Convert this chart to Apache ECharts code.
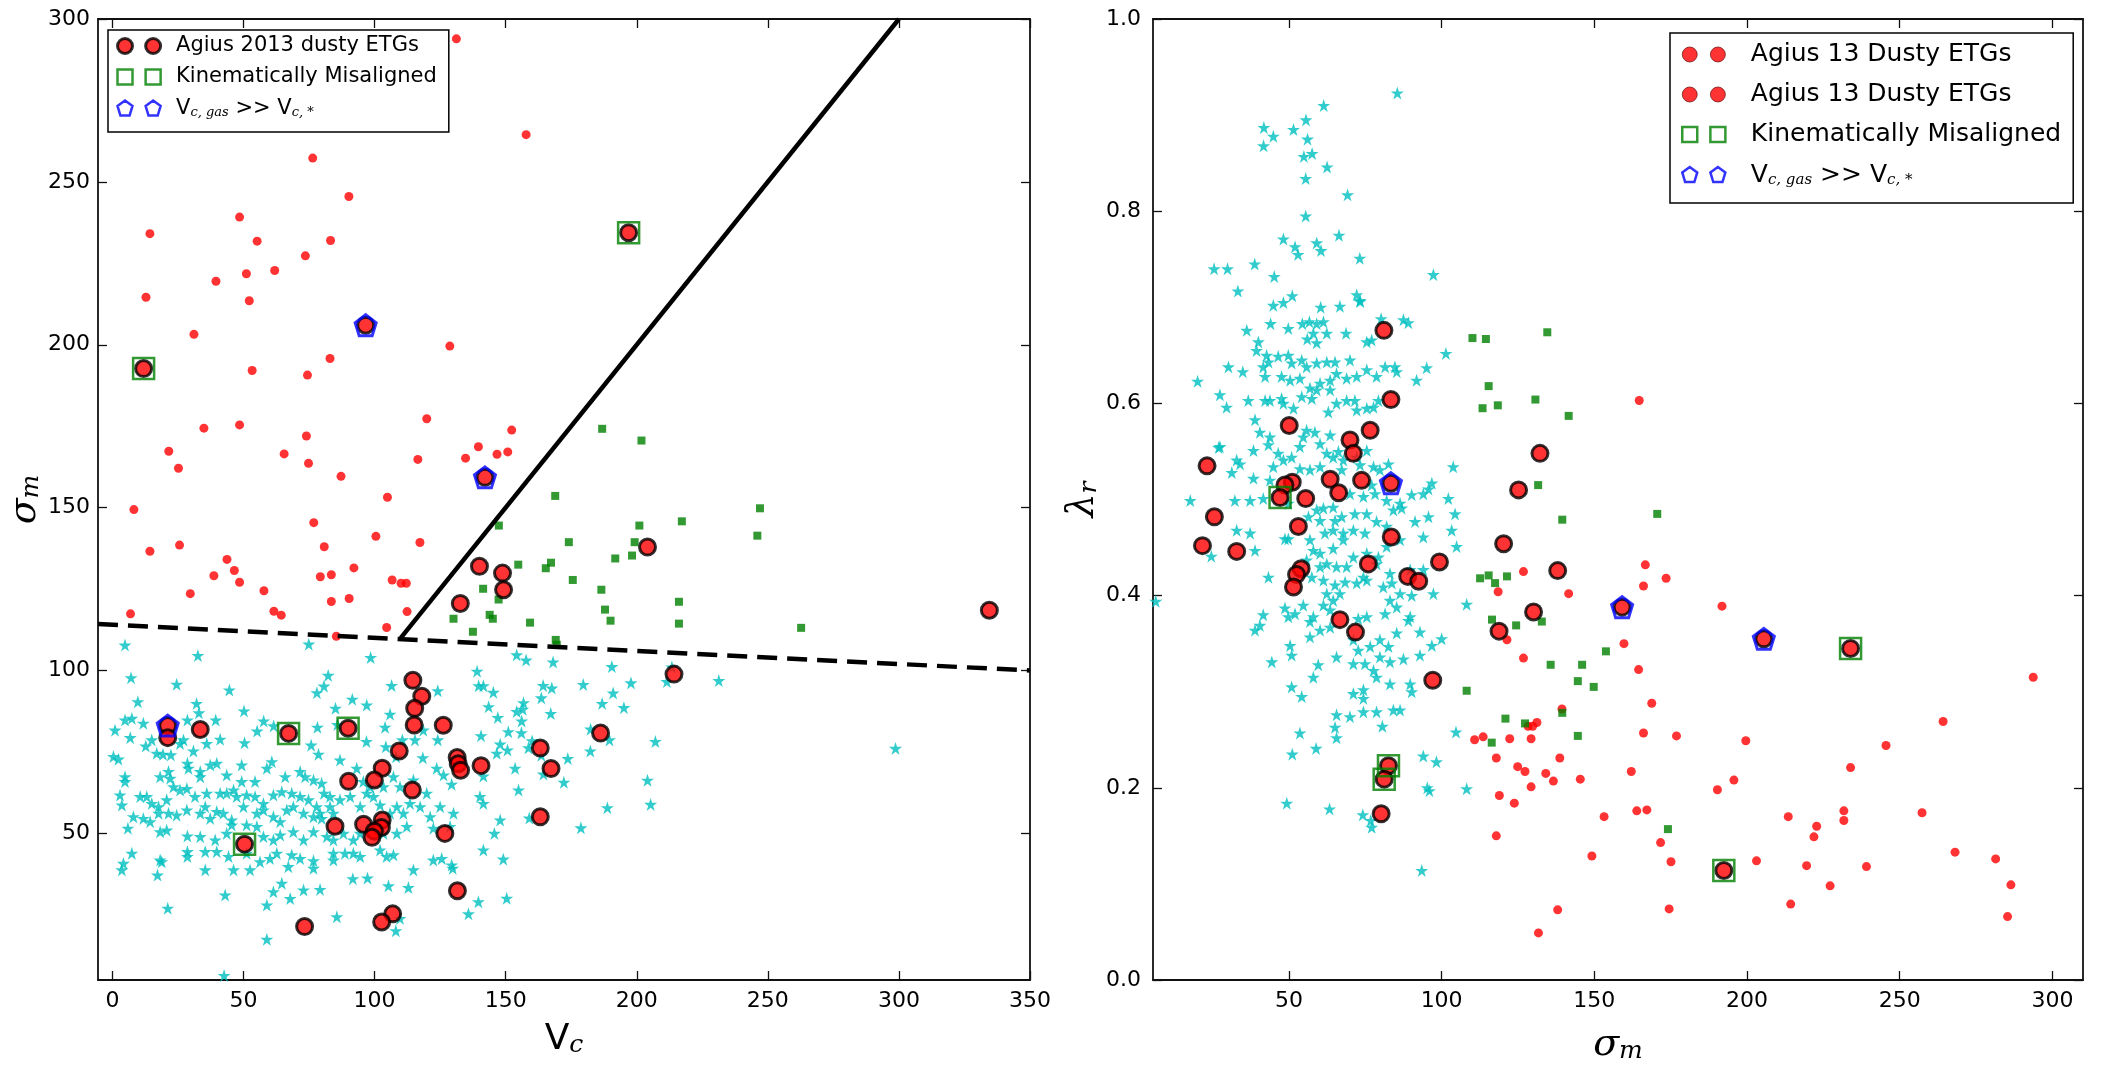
<!DOCTYPE html>
<html>
<head>
<meta charset="utf-8">
<title>Vc / sigma_m / lambda_r</title>
<script src="https://cdn.jsdelivr.net/npm/echarts@6.0.0/dist/echarts.min.js"></script>
<style>
html, body { margin: 0; padding: 0; background: #fff; }
#main { width: 2114px; height: 1074px; }
</style>
</head>
<body>
<div id="main"></div>
<script>
// ---- left panel: V_c vs sigma_m ----
var leftStars = [
 [4.8,107.8],[32.6,104.6],[74.9,108.1],[98.5,104.0],[154.2,104.8],
 [7.1,97.8],[24.5,95.8],[44.6,94.0],[9.7,90.4],[82.3,98.5],[80.7,95.2],[78.0,93.2],[91.5,91.2],[97.0,89.4],[85.1,88.4],[106.5,95.4],[124.1,93.8],[139.1,99.8],[139.7,95.3],[141.5,95.3],[145.3,93.3],[143.5,88.9],[147.0,85.6],[151.0,81.2],[154.2,87.4],
 [32.1,89.9],[33.0,87.0],[50.2,87.6],[57.7,84.5],[61.5,83.0],[55.2,81.4],[50.4,77.8],[41.1,78.9],[39.4,84.8],[28.6,84.8],[4.8,84.8],[7.4,85.3],[1.0,81.7],[11.8,83.8],[15.0,78.7],[6.8,79.4],[12.7,76.8],[16.9,74.6],[19.3,74.3],[22.3,74.1],[25.8,77.6],[27.1,78.7],[30.9,75.3],[36.0,77.6],[0.4,73.6],[2.3,72.8],
 [78.2,82.6],[85.8,83.4],[96.9,78.2],[104.0,82.6],[105.9,86.6],[118.6,81.7],[115.4,78.7],[124.1,78.7],[140.6,80.0],[147.9,77.4],[150.7,75.6],[146.6,74.6],[75.8,77.1],[78.6,74.3],[86.8,72.5],[93.2,70.0],[104.3,76.6],[110.6,78.7],[108.2,73.5],[118.4,73.2],[123.7,70.0],[126.3,67.9],[129.4,65.1],[141.5,67.6],[153.6,70.0],
 [4.8,67.4],[4.8,65.9],[18.2,67.4],[21.4,69.0],[22.0,66.9],[28.6,71.5],[29.0,70.0],[33.5,69.0],[33.5,67.4],[37.3,71.0],[39.8,71.5],[43.6,67.9],[49.3,71.0],[49.3,65.9],[54.4,65.9],[58.9,70.0],[60.8,72.0],[65.9,67.4],[71.6,69.0],[73.5,67.4],[76.7,66.4],[79.8,65.4],[80.7,62.3],[83.0,61.3],
 [2.9,61.8],[3.6,58.7],[10.6,61.3],[13.1,61.3],[15.0,59.2],[17.6,58.2],[20.7,60.3],[23.3,64.3],[25.8,63.3],[28.4,63.8],[31.5,61.3],[36.0,62.3],[41.1,62.3],[43.6,62.3],[46.2,63.3],[47.4,61.3],[51.2,61.8],[54.4,61.3],[57.6,59.2],[61.4,61.8],[64.6,62.8],[68.4,62.3],[71.6,61.3],[74.8,60.3],[77.9,58.2],[79.2,56.2],[83.0,58.2],[86.8,60.3],
 [8.0,55.1],[11.8,54.6],[14.4,53.6],[17.6,56.2],[21.4,56.2],[24.5,55.6],[28.4,57.2],[33.5,56.2],[35.4,58.2],[37.3,54.6],[39.8,56.7],[42.3,56.2],[45.5,54.1],[50.0,58.2],[55.1,56.2],[57.6,57.2],[61.4,55.1],[64.0,53.6],[66.5,57.2],[69.0,58.2],[72.9,56.2],[76.7,55.1],[79.8,54.6],[84.3,56.2],
 [5.9,51.6],[18.2,50.5],[20.7,51.0],[28.6,49.2],[33.5,49.0],[39.2,48.0],[43.6,50.0],[45.5,52.6],[51.2,52.6],[55.1,52.1],[57.6,49.0],[61.4,48.0],[64.0,49.5],[69.0,50.5],[72.9,48.0],[76.7,50.5],[81.8,49.0],[84.3,48.0],[88.1,50.0],[91.9,48.0],[94.5,50.0],
 [90.7,61.3],[94.5,58.2],[97.0,62.3],[99.6,61.3],[102.1,58.7],[105.9,56.2],[108.5,58.2],[111.0,56.2],[113.5,59.2],[117.4,58.2],[121.2,55.1],[125.0,58.2],[130.1,56.2],[140.2,61.3],[141.5,59.2],[147.9,54.1],
 [95.7,65.9],[98.3,64.3],[103.4,64.3],[107.2,67.4],[109.7,64.3],[114.8,66.4],[119.9,62.3],
 [103.4,50.0],[108.5,50.0],[112.3,52.1],[122.4,51.6],[128.8,52.1],
 [7.4,43.9],[4.2,40.8],[3.6,38.8],[18.2,41.8],[18.8,41.3],[17.2,37.2],[28.6,44.4],[28.6,42.9],[35.4,38.8],[35.4,44.4],[39.8,44.4],[44.3,42.9],[46.2,38.8],[51.2,43.9],[52.5,38.8],[56.3,41.3],[60.1,42.3],[62.7,43.9],[67.1,39.8],[68.4,43.4],[71.6,42.3],[76.7,41.6],[76.7,39.3],[84.3,43.9],[84.3,41.8],[88.7,43.9],[91.9,43.9],[94.5,42.9],[102.1,44.9],[104.6,42.9],[107.2,43.4],[114.8,38.8],[122.4,41.8],[125.6,42.3],[129.4,40.3],[129.8,39.3],[141.5,44.9],[149.1,42.1],[145.7,50.0],
 [43.0,31.1],[61.4,32.1],[64.6,34.7],[72.9,32.6],[79.2,32.8],[67.8,30.0],[58.9,28.0],[91.7,36.1],[97.3,36.3],[105.3,33.9],[112.9,33.4],[85.6,24.4],[21.1,27.0],[58.9,17.5],[108.1,20.1],[109.7,23.9],[135.8,25.3],[139.6,29.0],[150.4,30.1],
 [157.8,103.2],[168.1,102.6],[190.5,101.2],[197.8,96.2],[179.6,95.7],[164.3,95.4],[167.6,94.6],[191.0,93.1],[163.6,91.6],[156.8,90.1],[156.5,88.1],[167.2,86.8],[186.8,89.9],[195.1,88.6],[156.1,84.5],[156.0,80.9],[160.1,78.4],[189.6,78.7],[207.1,78.2],[182.3,75.3],[158.7,76.3],[163.6,74.0],[173.7,73.0],[164.4,68.2],[172.2,65.7],[204.1,66.3],[205.3,58.9],[188.8,57.9],[178.7,51.7],[159.0,54.7],[154.9,63.3],
 [211.5,96.6],[213.4,101.1],[231.3,96.9],[182.4,82.0],[298.7,76.1],[42.6,6.4]
];
var leftRedDots = [
 [131.2,293.9],[157.8,264.5],[76.4,257.3],[90.2,245.5],[48.5,239.2],[14.3,234.1],[55.2,231.8],[83.2,232.0],[73.6,227.3],[39.5,219.5],[51.1,221.8],[61.9,222.8],[12.8,214.6],[52.2,213.5],[31.1,203.2],[128.7,199.6],[83.0,195.8],[53.3,192.1],[74.4,190.7],[119.9,177.3],[34.9,174.4],[48.5,175.4],[74.0,172.0],[152.3,173.8],[139.6,168.7],[21.5,167.3],[65.5,166.5],[134.7,165.2],[146.7,166.4],[150.8,167.1],[25.2,162.1],[74.8,163.6],[116.5,164.8],[87.2,159.6],[104.9,153.2],[8.2,149.4],[76.8,145.4],[100.5,141.2],[117.3,139.3],[14.3,136.6],[25.6,138.5],[80.8,138.0],[43.7,134.1],[46.5,130.7],[38.7,129.1],[48.5,127.1],[79.3,128.8],[83.5,129.4],[92.1,131.5],[29.7,123.6],[57.8,124.5],[106.7,127.8],[110.1,126.8],[112.1,126.8],[83.5,121.2],[90.3,122.1],[6.9,117.4],[61.6,118.2],[64.4,117.0],[112.4,118.1],[104.6,113.2],[85.4,110.5]
];
var leftGreenSquares = [
 [186.8,174.2],[201.8,170.6],[168.9,153.6],[147.4,144.5],[201.0,144.5],[174.1,139.4],[199.2,139.4],[191.8,134.4],[198.2,135.3],[154.8,132.5],[165.3,131.4],[167.3,133.1],[175.6,127.8],[186.5,124.8],[141.4,125.1],[147.3,121.8],[187.9,118.7],[247.0,149.8],[217.2,145.8],[246.0,141.4],[216.1,121.1],[190.0,115.3],[216.1,114.4],[262.7,113.1],[130.1,115.9],[143.9,117.1],[145.1,115.9],[159.3,114.7],[137.5,111.9],[169.1,109.4],[169.5,107.9]
];
var leftAgius = [
 [196.9,234.4],[11.9,192.7],[96.6,206.0],[142.1,159.3],[204.1,137.9],[140.0,132.0],[148.8,129.9],[149.2,124.8],[132.7,120.6],[334.5,118.5],[214.2,98.9],[186.2,80.8],[114.6,97.0],[118.0,92.1],[115.3,88.4],[115.1,83.3],[126.2,83.2],[21.1,83.1],[21.1,79.4],[33.5,81.9],[67.2,80.7],[89.9,82.3],[109.4,75.3],[163.2,76.2],[131.5,73.3],[131.9,71.4],[132.8,69.4],[140.6,70.8],[167.3,69.9],[102.9,70.0],[90.1,66.0],[99.9,66.4],[114.4,63.3],[163.2,55.1],[84.9,52.2],[95.8,52.8],[102.9,54.1],[102.6,51.8],[99.9,50.7],[99.0,48.8],[126.8,50.0],[50.4,46.7],[131.6,32.4],[106.9,25.3],[102.7,22.8],[73.3,21.4]
];
var leftMisaligned = [[196.9,234.4],[11.9,192.7],[67.2,80.7],[89.9,82.3],[50.4,46.7]];
var leftGasFast = [[96.6,206.0],[142.1,159.3],[21.1,83.1]];
var dividerSolid = [[110,110],[300,300]];
var dividerDashed = [[-5.5,114.3],[350,100]];

// ---- right panel: sigma_m vs lambda_r ----
var rightStars = [
 [85.5,0.923],[61.4,0.910],[41.8,0.887],[51.5,0.885],[55.6,0.895],[44.9,0.878],[41.7,0.868],[56.1,0.875],[54.9,0.857],[57.6,0.860],[62.5,0.846],[55.5,0.834],[69.2,0.817],[55.5,0.795],[48.2,0.771],[52.0,0.763],[53.0,0.755],[59.1,0.767],[60.5,0.759],[66.4,0.775],[73.2,0.751],[25.5,0.740],[29.9,0.740],[38.8,0.745],[45.2,0.732],[97.3,0.734],[33.3,0.717],[51.1,0.712],[72.2,0.713],[73.3,0.707],
 [20.1,0.623],[27.0,0.554],[17.7,0.499],[24.6,0.441],[6.4,0.394],
 [44.9,0.702],[48.2,0.705],[60.4,0.700],[66.7,0.701],[73.3,0.706],[44.0,0.683],[49.8,0.678],[54.4,0.683],[56.7,0.685],[59.1,0.683],[61.3,0.685],[62.4,0.673],[58.0,0.673],[68.7,0.673],[59.1,0.663],[56.0,0.667],[80.2,0.688],[87.5,0.687],[89.1,0.684],[75.5,0.664],[77.1,0.666],[36.2,0.676],[40.0,0.664],[39.4,0.655],[42.7,0.650],[43.3,0.643],[46.5,0.649],[49.8,0.650],[50.9,0.642],[54.2,0.645],[55.8,0.638],[59.1,0.642],[62.4,0.643],[65.1,0.643],[70.0,0.645],[75.5,0.635],[81.5,0.638],[84.7,0.638],[85.3,0.633],[78.7,0.628],[72.2,0.628],[68.9,0.626],[65.6,0.631],[63.5,0.624],[60.2,0.621],[56.9,0.616],[53.6,0.626],[50.4,0.624],[47.6,0.628],[42.2,0.628],[41.6,0.638],[30.2,0.638],[34.9,0.633],[27.4,0.609],[29.6,0.596],[36.7,0.603],[38.9,0.583],[42.2,0.603],[43.8,0.603],[47.6,0.605],[48.2,0.600],[51.5,0.595],[54.2,0.607],[57.5,0.605],[59.1,0.614],[63.5,0.614],[65.6,0.600],[62.9,0.591],[68.9,0.603],[71.6,0.603],[72.2,0.593],[75.5,0.595],[77.7,0.596],[79.3,0.603],[91.8,0.624],[95.1,0.637],[101.4,0.652],
 [40.5,0.570],[43.8,0.565],[43.3,0.557],[38.4,0.551],[32.9,0.541],[34.0,0.537],[31.3,0.528],[27.4,0.555],[46.5,0.548],[48.2,0.541],[50.9,0.544],[53.6,0.555],[54.7,0.565],[55.8,0.572],[58.5,0.570],[60.2,0.558],[62.4,0.548],[64.5,0.544],[66.2,0.550],[67.8,0.541],[63.5,0.567],[72.2,0.544],[75.5,0.551],[77.7,0.534],[82.6,0.537],[79.8,0.531],[73.3,0.536],[67.3,0.531],[60.2,0.534],[56.9,0.531],[53.6,0.532],[44.9,0.534],[43.8,0.520],[38.4,0.522],[32.3,0.499],[37.3,0.499],[41.6,0.501],[49.8,0.496],[59.1,0.489],[61.3,0.491],[64.5,0.492],[70.0,0.506],[74.4,0.503],[77.1,0.515],[78.2,0.506],[82.0,0.499],[86.4,0.496],[90.2,0.505],[94.0,0.506],[95.7,0.511],[96.8,0.517],[102.2,0.501],[103.8,0.534],
 [56.4,0.482],[60.2,0.478],[65.1,0.478],[67.3,0.482],[71.6,0.485],[75.5,0.485],[78.7,0.477],[84.2,0.489],[86.9,0.491],[91.3,0.477],[95.7,0.482],[104.4,0.485],[61.8,0.465],[64.5,0.468],[67.8,0.465],[71.1,0.468],[74.9,0.465],[82.0,0.472],[86.4,0.458],[94.0,0.461],[103.3,0.468],[104.9,0.451],[48.7,0.459],[49.8,0.459],[32.9,0.468],[37.3,0.465],[38.9,0.447],[56.9,0.458],[58.0,0.447],[60.2,0.444],[64.5,0.449],[67.8,0.458],[71.1,0.440],[75.5,0.444],[79.3,0.440],[82.0,0.451],[43.3,0.419],[55.8,0.437],[60.2,0.430],[62.4,0.433],[65.6,0.430],[68.9,0.430],[74.4,0.419],[78.7,0.433],[83.1,0.423],[89.7,0.427],[94.0,0.427],[57.5,0.419],[61.3,0.416],[65.1,0.411],[68.4,0.414],[72.2,0.413],[75.5,0.416],[80.9,0.409],[83.7,0.413],[86.4,0.402],[90.2,0.400],[97.3,0.402],[62.4,0.402],[64.5,0.395],[66.7,0.402],[83.1,0.395],[85.3,0.388],[89.7,0.378],[81.5,0.381],[75.5,0.378],[72.7,0.376],[63.5,0.385],[61.3,0.390],[58.0,0.378],[54.7,0.390],[52.0,0.381],[49.8,0.378],[48.7,0.387],[41.6,0.380],[38.9,0.364],[40.5,0.369],[56.9,0.373],[56.9,0.357],[60.2,0.364],[63.5,0.367],[108.2,0.391],[92.9,0.362],[89.1,0.374],[85.3,0.361],[79.8,0.354],[76.6,0.347],[72.7,0.343],[71.1,0.354],[50.4,0.348],[50.9,0.338],[44.4,0.331],[59.6,0.328],[58.0,0.315],[65.6,0.336],[71.1,0.329],[74.9,0.329],[77.7,0.322],[79.8,0.336],[82.6,0.347],[83.1,0.331],[87.5,0.334],[92.9,0.338],[96.8,0.348],[100.0,0.355],[50.9,0.305],[54.2,0.295],[71.1,0.298],[74.4,0.302],[74.4,0.293],[78.7,0.315],[83.1,0.308],[89.7,0.308],[90.2,0.300],[65.6,0.276],[70.0,0.274],[74.4,0.279],[78.7,0.279],[86.4,0.281],[84.2,0.281],
 [104.7,0.258],[80.6,0.264],[65.6,0.252],[53.6,0.257],[58.9,0.241],[51.1,0.235],[94.0,0.233],[98.3,0.227],[108.2,0.199],[95.3,0.200],[96.0,0.197],[49.3,0.184],[63.3,0.178],[74.2,0.172],[76.8,0.166],[77.1,0.159],[93.5,0.114],[65.1,0.263]
];
var rightRedDots = [
 [126.8,0.425],[118.5,0.404],[141.6,0.402],[121.4,0.354],[126.8,0.335],[159.7,0.350],[164.5,0.323],[139.4,0.282],[110.8,0.250],[113.6,0.253],[122.3,0.251],[128.3,0.264],[129.8,0.264],[131.2,0.268],[129.3,0.251],[117.9,0.231],[138.7,0.231],[124.9,0.222],[127.3,0.217],[134.1,0.215],[136.6,0.207],[129.3,0.201],[145.4,0.209],[162.1,0.217],[118.9,0.192],[123.8,0.184],[153.2,0.170],[163.9,0.176],[117.9,0.150],[149.2,0.129],[138.0,0.073],[131.7,0.049],
 [164.7,0.603],[166.7,0.432],[173.5,0.418],[166.1,0.410],[191.8,0.389],[168.8,0.288],[293.7,0.315],[166.1,0.257],[176.9,0.254],[199.6,0.249],[264.2,0.269],[245.5,0.244],[233.9,0.221],[195.7,0.208],[190.3,0.198],[231.7,0.176],[231.7,0.166],[257.3,0.174],[213.5,0.170],[222.8,0.160],[221.9,0.149],[167.2,0.177],[171.7,0.143],[175.1,0.123],[203.1,0.124],[219.5,0.119],[239.1,0.118],[268.1,0.133],[281.4,0.126],[286.4,0.099],[227.2,0.098],[285.3,0.066],[214.3,0.079],[174.5,0.074]
];
var rightGreenSquares = [
 [110.1,0.668],[114.5,0.667],[134.6,0.674],[115.4,0.618],[113.4,0.595],[118.4,0.598],[130.7,0.604],[141.6,0.587],[131.6,0.515],[139.5,0.479],[112.6,0.418],[115.4,0.421],[117.5,0.413],[121.4,0.420],[116.5,0.375],[124.4,0.369],[132.8,0.373],[153.8,0.342],[135.7,0.328],[146.0,0.328],[144.6,0.311],[149.8,0.305],[108.2,0.301],[120.9,0.272],[127.3,0.267],[139.5,0.278],[144.6,0.254],[116.4,0.247],[170.6,0.485],[174.1,0.157]
];
var rightAgius = [
 [81.1,0.676],[83.4,0.604],[50.1,0.577],[76.6,0.572],[70.0,0.562],[71.1,0.548],[23.2,0.535],[63.5,0.521],[73.8,0.520],[83.4,0.517],[51.1,0.518],[48.7,0.515],[47.1,0.502],[66.3,0.507],[55.5,0.501],[132.2,0.548],[125.2,0.510],[25.6,0.482],[53.1,0.472],[83.5,0.461],[120.3,0.454],[21.7,0.452],[32.9,0.446],[76.0,0.433],[99.3,0.435],[54.0,0.428],[52.5,0.422],[51.5,0.409],[88.9,0.420],[92.5,0.415],[138.0,0.426],[159.1,0.388],[130.1,0.383],[118.8,0.363],[66.7,0.375],[71.8,0.362],[97.1,0.312],[82.6,0.223],[81.2,0.209],[80.2,0.173],[205.5,0.355],[233.9,0.345],[192.4,0.114]
];
var rightMisaligned = [[47.1,0.502],[82.6,0.223],[81.2,0.209],[233.9,0.345],[192.4,0.114]];
var rightGasFast = [[83.4,0.517],[159.1,0.388],[205.5,0.355]];

// tick positions
var vcTicks = [0, 50, 100, 150, 200, 250, 300, 350];
var sigmaTicks = [50, 100, 150, 200, 250, 300];
var lambdaTicks = [0, 0.2, 0.4, 0.6, 0.8, 1.0];

var STAR = 'path://M50,0L61.2,34.5L97.6,34.5L68.2,55.9L79.4,90.5L50,69.1L20.6,90.5L31.8,55.9L2.4,34.5L38.8,34.5Z';
var PENTAGON = 'path://M50,0L97.6,34.5L79.4,90.5L20.6,90.5L2.4,34.5Z';
var TWO_CIRCLES = 'path://M0,8a8,8 0 1,0 16,0a8,8 0 1,0 -16,0zM30,8a8,8 0 1,0 16,0a8,8 0 1,0 -16,0z';
var TWO_SQUARES = 'path://M0,0h16v16h-16zM30,0h16v16h-16z';
var TWO_PENTAGONS = 'path://M8,0L16,5.8L12.9,16L3.1,16L0,5.8ZM38,0L46,5.8L42.9,16L33.1,16L30,5.8Z';

var legendLabels = {
  L_agius: 'Agius 2013 dusty ETGs',
  L_mis: 'Kinematically Misaligned',
  L_gas: '{n|V}{s|c, gas}{n| >> V}{s|c, *}',
  R_dots: 'Agius 13 Dusty ETGs',
  R_agius: 'Agius 13 Dusty ETGs',
  R_mis: 'Kinematically Misaligned',
  R_gas: '{n|V}{s|c, gas}{n| >> V}{s|c, *}'
};

var mathRich = {
  v: { fontFamily: 'DejaVu Sans', fontSize: 36, lineHeight: 44, verticalAlign: 'bottom', color: '#000' },
  g: { fontFamily: 'DejaVu Serif', fontStyle: 'italic', fontSize: 38, lineHeight: 44, verticalAlign: 'bottom', color: '#000' },
  s: { fontFamily: 'DejaVu Serif', fontStyle: 'italic', fontSize: 25, lineHeight: 18, verticalAlign: 'bottom', color: '#000' }
};

function axis(grid, pos, min, max, ticks, fmt) {
  return {
    type: 'value', gridIndex: grid, position: pos, min: min, max: max,
    splitLine: { show: false },
    axisLine: { show: true, onZero: false, lineStyle: { color: '#111', width: 1.8 } },
    axisTick: { show: true, inside: true, length: 9, customValues: ticks, lineStyle: { color: '#111', width: 1.3 } },
    axisLabel: {
      show: !!fmt, customValues: ticks, margin: 10, color: '#000',
      fontFamily: 'DejaVu Sans', fontSize: 22,
      formatter: fmt || '{value}'
    }
  };
}
function plain(v) { return String(v); }
function oneDec(v) { return v.toFixed(1); }

var xLeft = axis(0, 'bottom', -5.5, 350, vcTicks, plain);
xLeft.name = '{v|V}{s|c}';
xLeft.nameLocation = 'middle';
xLeft.nameGap = 34;
xLeft.nameTextStyle = { rich: mathRich };

var xRight = axis(1, 'bottom', 5.5, 310, sigmaTicks, plain);
xRight.name = '{g|σ}{s|m}';
xRight.nameLocation = 'middle';
xRight.nameGap = 40;
xRight.nameTextStyle = { rich: mathRich };

var yLeft = axis(0, 'left', 5, 300, sigmaTicks, plain);
yLeft.axisLabel.margin = 8;
yLeft.name = '{g|σ}{s|m}';
yLeft.nameLocation = 'middle';
yLeft.nameGap = 50;
yLeft.nameTextStyle = { rich: mathRich };

var yRight = axis(1, 'left', 0, 1, lambdaTicks, oneDec);
yRight.axisLabel.margin = 12;
yRight.name = '{g|λ}{s|r}';
yRight.nameLocation = 'middle';
yRight.nameGap = 48;
yRight.nameTextStyle = { rich: mathRich };

function scatter(name, x, y, data, style) {
  var s = {
    name: name, type: 'scatter', xAxisIndex: x, yAxisIndex: y, data: data,
    silent: true, animation: false
  };
  for (var k in style) s[k] = style[k];
  return s;
}
var starStyle = { symbol: STAR, symbolSize: 13, itemStyle: { color: '#00bfbf' } };
var dotStyle = { symbol: 'circle', symbolSize: 9, itemStyle: { color: '#ff0000' } };
var sqStyle = { symbol: 'rect', symbolSize: 8, itemStyle: { color: '#008000' } };
var bigStyle = { symbol: 'circle', symbolSize: 16, itemStyle: { color: '#ff0000', borderColor: '#000', borderWidth: 3 } };
var misStyle = { symbol: 'rect', symbolSize: 21, itemStyle: { color: 'rgba(0,0,0,0)', borderColor: '#008000', borderWidth: 2.5 } };
var gasStyle = { symbol: PENTAGON, symbolSize: 21, itemStyle: { color: 'rgba(0,0,0,0)', borderColor: '#0000ff', borderWidth: 3 } };

var myChart = echarts.init(document.getElementById('main'));

option = {
  backgroundColor: '#fff',
  animation: false,
  grid: [
    { left: 98, top: 19, width: 932, height: 961 },
    { left: 1153, top: 19, width: 930, height: 961 }
  ],
  xAxis: [xLeft, axis(0, 'top', -5.5, 350, vcTicks), xRight, axis(1, 'top', 5.5, 310, sigmaTicks)],
  yAxis: [yLeft, axis(0, 'right', 5, 300, sigmaTicks), yRight, axis(1, 'right', 0, 1, lambdaTicks)],
  legend: [
    {
      left: 108, top: 30, orient: 'vertical', itemWidth: 46, itemHeight: 15, itemGap: 9,
      padding: [5, 12, 13, 8],
      backgroundColor: '#fff', borderColor: '#000', borderWidth: 1.5, borderRadius: 0,
      selectedMode: false,
      textStyle: {
        fontFamily: 'DejaVu Sans', fontSize: 21, lineHeight: 22, color: '#000', padding: [0, 0, 0, 9],
        rich: {
          n: { fontFamily: 'DejaVu Sans', fontSize: 21, lineHeight: 22, verticalAlign: 'bottom', color: '#000' },
          s: { fontFamily: 'DejaVu Serif', fontStyle: 'italic', fontSize: 13, lineHeight: 8, verticalAlign: 'bottom', color: '#000' }
        }
      },
      formatter: function (name) { return legendLabels[name]; },
      data: [
        { name: 'L_agius', icon: TWO_CIRCLES, itemStyle: { color: '#ff0000', borderColor: '#000', borderWidth: 3 } },
        { name: 'L_mis', icon: TWO_SQUARES, itemStyle: { color: 'rgba(0,0,0,0)', borderColor: '#008000', borderWidth: 2.5 } },
        { name: 'L_gas', icon: TWO_PENTAGONS, itemStyle: { color: 'rgba(0,0,0,0)', borderColor: '#0000ff', borderWidth: 2.5 } }
      ]
    },
    {
      left: 1670, top: 33, orient: 'vertical', itemWidth: 46, itemHeight: 15, itemGap: 13,
      padding: [8, 12, 15, 11],
      backgroundColor: '#fff', borderColor: '#000', borderWidth: 1.5, borderRadius: 0,
      selectedMode: false,
      textStyle: {
        fontFamily: 'DejaVu Sans', fontSize: 25, lineHeight: 27, color: '#000', padding: [0, 0, 0, 19],
        rich: {
          n: { fontFamily: 'DejaVu Sans', fontSize: 25, lineHeight: 27, verticalAlign: 'bottom', color: '#000' },
          s: { fontFamily: 'DejaVu Serif', fontStyle: 'italic', fontSize: 15, lineHeight: 10, verticalAlign: 'bottom', color: '#000' }
        }
      },
      formatter: function (name) { return legendLabels[name]; },
      data: [
        { name: 'R_dots', icon: TWO_CIRCLES, itemStyle: { color: '#ff0000', borderColor: '#550000', borderWidth: 0.8 } },
        { name: 'R_agius', icon: TWO_CIRCLES, itemStyle: { color: '#ff0000', borderColor: '#550000', borderWidth: 0.8 } },
        { name: 'R_mis', icon: TWO_SQUARES, itemStyle: { color: 'rgba(0,0,0,0)', borderColor: '#008000', borderWidth: 2.5 } },
        { name: 'R_gas', icon: TWO_PENTAGONS, itemStyle: { color: 'rgba(0,0,0,0)', borderColor: '#0000ff', borderWidth: 2.5 } }
      ]
    }
  ],
  series: [
    scatter('L_stars', 0, 0, leftStars, starStyle),
    scatter('L_dots', 0, 0, leftRedDots, dotStyle),
    scatter('L_green', 0, 0, leftGreenSquares, sqStyle),
    {
      name: 'solid', type: 'line', xAxisIndex: 0, yAxisIndex: 0, data: dividerSolid,
      symbol: 'none', silent: true, lineStyle: { color: '#000', width: 4.5 }
    },
    {
      name: 'dashed', type: 'line', xAxisIndex: 0, yAxisIndex: 0, data: dividerDashed,
      symbol: 'none', silent: true, lineStyle: { color: '#000', width: 4.5, type: [20, 10] }
    },
    scatter('L_agius', 0, 0, leftAgius, bigStyle),
    scatter('L_mis', 0, 0, leftMisaligned, misStyle),
    scatter('L_gas', 0, 0, leftGasFast, gasStyle),

    scatter('R_stars', 2, 2, rightStars, starStyle),
    scatter('R_dots', 2, 2, rightRedDots, dotStyle),
    scatter('R_green', 2, 2, rightGreenSquares, sqStyle),
    scatter('R_agius', 2, 2, rightAgius, bigStyle),
    scatter('R_mis', 2, 2, rightMisaligned, misStyle),
    scatter('R_gas', 2, 2, rightGasFast, gasStyle)
  ]
};
myChart.setOption(option);
window.addEventListener('resize', function () {
  myChart.resize();
});
</script>
</body>
</html>
